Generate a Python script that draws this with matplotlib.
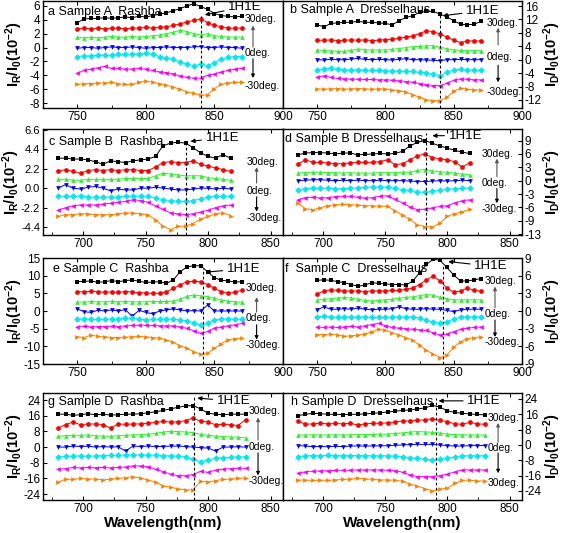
import numpy as np
import matplotlib
matplotlib.use('Agg')
import matplotlib.pyplot as plt
from matplotlib.ticker import FixedLocator, FixedFormatter, MultipleLocator

plt.rcParams['font.family'] = ['Liberation Sans', 'DejaVu Sans']
plt.rcParams['mathtext.fontset'] = 'custom'
plt.rcParams['mathtext.rm'] = 'Liberation Sans'
plt.rcParams['mathtext.bf'] = 'Liberation Sans:bold'
plt.rcParams['mathtext.it'] = 'Liberation Sans:italic'

# ---------------- data ----------------
wl_A = np.arange(750, 871, 5)     # panels a, b, e, f
wl_B = np.arange(680, 819, 6)     # panels c, d
wl_D = np.arange(680, 831, 6)     # panels g, h

a_black = [3.6, 4.1, 4.2, 4.2, 4.3, 4.2, 4.3, 4.4, 4.3, 4.5, 4.4, 4.6, 4.8, 5.0, 5.3, 5.6, 6.0, 6.3, 5.9, 5.5, 4.9, 4.6, 4.5, 4.4, 4.5]
a_red = [2.7, 2.8, 2.7, 2.8, 2.7, 2.8, 2.8, 2.7, 2.8, 2.8, 2.9, 2.8, 2.9, 3.0, 3.2, 3.4, 3.7, 3.9, 4.1, 3.6, 3.2, 3.0, 2.8, 2.8, 2.8]
a_green = [1.5, 1.4, 1.5, 1.4, 1.5, 1.6, 1.5, 1.5, 1.6, 1.5, 1.6, 1.7, 1.8, 2.0, 2.2, 2.5, 2.3, 2.0, 1.8, 2.0, 1.7, 1.6, 1.5, 1.5, 1.5]
a_blue = [-0.1, 0.0, 0.0, -0.1, 0.0, 0.1, 0.0, 0.0, 0.1, 0.0, -0.1, 0.0, 0.0, 0.1, 0.0, 0.0, 0.0, 0.1, 0.15, 0.0, 0.0, 0.1, 0.0, 0.0, -0.1]
a_cyan = [-1.3, -1.2, -1.2, -1.1, -1.1, -1.1, -1.0, -1.0, -0.9, -0.9, -0.8, -1.0, -1.3, -1.5, -1.7, -2.1, -2.4, -2.6, -2.4, -2.6, -2.2, -1.7, -1.4, -1.3, -1.3]
a_magenta = [-3.7, -3.3, -3.1, -2.9, -2.7, -3.0, -3.0, -3.1, -3.1, -3.0, -3.1, -3.3, -3.5, -3.6, -3.8, -4.1, -4.3, -4.4, -4.4, -4.0, -3.8, -3.5, -3.3, -3.1, -3.0]
a_orange = [-5.3, -5.2, -5.2, -5.1, -5.1, -5.0, -5.2, -5.3, -5.3, -5.0, -4.8, -5.0, -5.2, -5.4, -5.7, -6.0, -6.4, -6.6, -6.9, -6.8, -5.9, -5.3, -5.1, -5.0, -5.0]

b_black = [10.4, 9.8, 10.8, 11.0, 11.1, 11.2, 11.4, 11.2, 11.1, 11.0, 10.8, 10.4, 11.6, 12.6, 13.1, 14.1, 14.4, 14.4, 13.6, 12.8, 11.6, 10.6, 10.4, 10.6, 11.4]
b_red = [5.8, 5.8, 5.9, 5.7, 5.8, 5.9, 5.8, 5.9, 5.7, 5.8, 6.0, 6.1, 6.4, 6.7, 7.1, 7.8, 8.6, 8.4, 7.6, 6.8, 5.8, 5.1, 5.6, 5.6, 5.6]
b_green = [2.9, 2.8, 2.6, 2.5, 2.5, 2.8, 3.2, 3.0, 2.9, 2.9, 2.9, 3.1, 3.3, 3.6, 3.9, 4.0, 4.1, 4.2, 3.7, 3.3, 2.9, 2.8, 2.7, 2.7, 2.7]
b_blue = [0.0, -0.1, 0.1, 0.0, 0.0, 0.2, 0.4, 0.1, 0.0, 0.1, 0.0, -0.1, 0.1, 0.3, 0.0, 0.0, -0.1, -0.2, -0.3, 0.0, 0.0, 0.1, 0.0, 0.0, 0.0]
b_cyan = [-3.0, -2.7, -2.6, -2.9, -3.0, -3.1, -3.0, -3.1, -3.2, -3.2, -3.3, -3.3, -3.4, -3.4, -3.5, -3.8, -4.0, -4.3, -4.8, -3.8, -3.0, -2.9, -3.0, -3.1, -3.1]
b_magenta = [-5.2, -4.8, -5.3, -5.6, -5.7, -5.8, -5.8, -5.9, -5.9, -6.0, -6.0, -6.1, -6.3, -6.5, -6.7, -7.1, -7.5, -7.7, -7.7, -7.0, -6.2, -5.7, -5.8, -6.0, -6.0]
b_orange = [-8.7, -8.8, -8.7, -8.6, -8.8, -8.7, -8.6, -8.7, -8.8, -8.7, -8.7, -9.0, -9.2, -9.7, -10.4, -11.2, -12.0, -12.2, -12.2, -11.2, -9.4, -8.5, -8.8, -9.0, -9.0]

c_black = [3.4, 3.4, 3.3, 3.3, 3.2, 3.0, 2.7, 3.1, 3.0, 2.9, 3.1, 3.2, 3.3, 3.6, 4.8, 5.1, 5.2, 5.1, 4.6, 4.0, 3.6, 3.4, 3.8, 3.4]
c_red = [1.9, 2.1, 1.9, 1.7, 2.0, 2.1, 2.0, 2.1, 2.0, 2.1, 2.1, 2.0, 2.0, 2.4, 2.9, 3.0, 2.9, 2.9, 3.1, 2.7, 2.5, 2.3, 2.1, 1.9]
c_green = [1.0, 1.0, 0.9, 0.9, 1.0, 1.0, 1.0, 1.0, 1.0, 1.1, 1.1, 1.1, 1.1, 1.4, 1.7, 1.6, 1.5, 1.4, 1.4, 1.4, 1.2, 1.1, 1.0, 0.9]
c_blue = [0.0, 0.4, 0.0, -0.1, 0.1, 0.2, 0.0, -0.3, -0.1, -0.2, -0.2, 0.0, 0.0, 0.1, 0.0, -0.1, -0.2, -0.2, -0.1, 0.0, 0.0, -0.1, 0.0, -0.1]
c_cyan = [-0.9, -0.9, -0.9, -0.9, -1.0, -1.0, -1.0, -1.0, -1.0, -0.9, -0.9, -0.9, -0.9, -1.1, -1.3, -1.4, -1.5, -1.5, -1.4, -1.2, -1.0, -0.9, -0.9, -0.9]
c_magenta = [-2.5, -2.2, -2.0, -1.9, -1.9, -1.9, -1.8, -1.7, -1.6, -1.5, -1.3, -1.4, -1.6, -2.0, -2.4, -2.8, -2.9, -3.0, -2.9, -2.7, -2.5, -2.2, -2.0, -1.9]
c_orange = [-3.2, -3.0, -3.0, -2.9, -2.9, -3.0, -3.0, -3.0, -2.9, -2.8, -2.8, -2.9, -3.0, -3.6, -4.3, -4.7, -4.3, -4.3, -4.0, -3.5, -3.2, -2.9, -2.8, -3.1]

d_black = [5.8, 6.2, 6.3, 6.3, 6.2, 6.0, 6.2, 6.2, 5.8, 5.9, 6.0, 6.1, 6.0, 6.1, 6.6, 7.8, 8.6, 9.0, 8.4, 7.8, 7.3, 6.8, 6.4, 6.1]
d_red = [3.7, 4.7, 4.1, 4.1, 4.0, 3.8, 3.8, 4.0, 4.1, 4.1, 4.1, 4.3, 4.7, 3.6, 3.8, 4.7, 5.6, 6.0, 5.2, 4.9, 4.7, 4.2, 3.1, 4.0]
d_green = [1.7, 1.8, 1.9, 1.9, 1.8, 1.8, 1.7, 1.8, 1.7, 1.7, 1.7, 1.8, 1.8, 1.8, 1.9, 1.9, 2.3, 2.5, 2.2, 2.0, 1.9, 1.7, 1.5, 1.3]
d_blue = [0.0, 0.1, 0.2, 0.2, 0.1, 0.0, 0.1, 0.0, 0.1, 0.0, 0.0, 0.1, 0.0, 0.0, 0.0, -0.1, -0.2, -0.2, -0.1, 0.0, -0.1, 0.0, 0.1, 0.0]
d_cyan = [-2.0, -1.8, -1.7, -1.6, -1.7, -1.8, -1.8, -1.7, -1.6, -1.5, -1.4, -1.4, -1.5, -1.7, -2.0, -2.2, -2.5, -2.6, -2.4, -2.2, -1.9, -1.8, -1.7, -1.6]
d_magenta = [-4.3, -3.8, -3.7, -3.9, -3.8, -3.6, -3.5, -3.5, -3.7, -3.9, -3.8, -3.5, -3.4, -4.2, -5.0, -5.9, -6.5, -6.4, -6.1, -5.8, -5.6, -5.0, -4.5, -4.3]
d_orange = [-5.0, -6.3, -6.5, -6.1, -5.6, -5.4, -5.3, -5.4, -5.5, -5.6, -5.7, -5.7, -5.8, -6.7, -7.8, -8.7, -9.9, -10.3, -10.4, -9.6, -8.0, -7.4, -7.0, -6.4]

e_black = [8.3, 8.4, 8.5, 8.1, 8.3, 8.6, 8.3, 8.6, 8.8, 8.4, 8.1, 8.2, 8.3, 7.8, 8.8, 11.1, 12.5, 12.8, 12.8, 11.1, 9.4, 8.7, 8.5, 8.2, 8.3]
e_red = [5.5, 5.4, 5.6, 5.5, 5.3, 5.4, 5.3, 5.5, 5.4, 5.2, 5.1, 5.0, 5.0, 5.4, 6.4, 7.4, 8.3, 8.4, 8.3, 7.5, 6.4, 5.5, 5.0, 5.3, 5.9]
e_green = [2.6, 2.5, 2.7, 2.6, 2.6, 2.8, 2.6, 2.7, 2.6, 2.6, 2.6, 2.7, 2.7, 2.7, 2.8, 3.3, 4.2, 4.5, 4.3, 4.1, 3.6, 3.1, 2.8, 2.6, 2.5]
e_blue = [0.6, -0.2, -0.4, 0.2, 0.0, 0.3, 0.0, 0.4, -1.5, 0.2, -0.4, -0.8, 0.0, 0.3, 0.6, 0.3, 0.0, 0.1, 0.0, 1.7, 0.0, 0.0, 0.0, 0.0, 0.0]
e_cyan = [-2.3, -2.2, -2.3, -2.4, -2.3, -2.3, -2.3, -2.1, -1.9, -2.2, -2.5, -2.4, -2.3, -2.3, -2.3, -2.5, -2.8, -3.4, -4.0, -3.5, -2.5, -2.3, -2.2, -2.3, -2.3]
e_magenta = [-4.4, -4.3, -4.5, -4.4, -4.4, -4.3, -4.4, -4.2, -4.1, -4.0, -4.0, -4.1, -4.2, -4.2, -4.2, -4.5, -4.9, -5.6, -6.3, -5.8, -4.9, -4.5, -4.2, -3.9, -3.5]
e_orange = [-7.3, -7.5, -6.8, -7.2, -7.3, -7.5, -7.5, -7.4, -7.3, -7.2, -7.3, -7.5, -7.7, -8.2, -8.9, -9.8, -10.6, -11.5, -12.3, -12.0, -10.6, -9.2, -8.2, -7.8, -7.7]

f_black = [5.2, 5.3, 5.2, 5.0, 4.8, 4.5, 4.2, 4.4, 4.8, 4.7, 4.6, 4.5, 4.5, 4.4, 5.1, 6.5, 7.9, 8.8, 8.6, 7.4, 6.1, 5.1, 5.1, 5.3, 5.5]
f_red = [2.9, 3.4, 3.6, 3.5, 3.4, 3.4, 3.4, 3.3, 3.4, 3.4, 3.4, 3.5, 3.5, 3.7, 3.9, 4.5, 5.3, 5.9, 5.1, 3.9, 3.2, 3.4, 3.9, 3.5, 3.4]
f_green = [1.9, 2.0, 2.1, 2.2, 2.3, 2.2, 2.0, 1.8, 1.7, 1.8, 1.9, 2.0, 2.2, 2.3, 2.4, 2.6, 2.8, 2.7, 2.3, 2.1, 1.9, 1.9, 1.9, 1.9, 1.9]
f_blue = [0.2, 0.7, 0.3, 0.3, 0.4, 0.3, 0.5, 0.3, 0.2, 0.3, 0.3, 0.4, 0.7, 0.4, 0.3, 0.3, 0.4, 0.3, 0.3, 0.1, -0.1, 0.2, 0.3, 0.3, 0.3]
f_cyan = [-1.0, -0.9, -1.0, -1.1, -1.0, -1.0, -1.0, -1.0, -1.1, -1.1, -1.1, -1.0, -1.0, -1.0, -1.0, -1.2, -1.6, -1.9, -2.1, -1.8, -1.4, -1.0, -1.0, -1.0, -1.0]
f_magenta = [-2.7, -2.8, -2.7, -2.8, -2.7, -2.6, -2.7, -2.5, -2.3, -2.1, -2.5, -2.8, -2.9, -3.0, -3.1, -3.2, -3.3, -3.7, -4.1, -3.9, -3.5, -3.1, -2.9, -2.8, -2.7]
f_orange = [-4.0, -4.0, -3.9, -4.1, -4.3, -4.2, -4.1, -3.9, -3.5, -3.1, -3.3, -3.7, -4.1, -4.5, -5.0, -5.8, -6.7, -7.3, -7.9, -7.5, -6.1, -5.2, -4.7, -4.5, -4.4]

g_black = [16.8, 16.8, 16.2, 16.5, 17.0, 16.5, 16.8, 16.3, 16.5, 16.8, 16.8, 17.0, 17.5, 18.0, 18.7, 19.5, 20.3, 21.0, 21.2, 19.5, 17.3, 16.8, 16.5, 16.8, 16.8, 16.8]
g_red = [9.7, 11.4, 12.8, 11.4, 11.8, 11.8, 11.5, 9.7, 11.8, 11.6, 11.8, 11.8, 12.2, 12.6, 13.1, 12.8, 12.8, 13.5, 14.8, 13.2, 12.8, 11.4, 11.6, 11.4, 11.0, 14.0]
g_green = [5.5, 5.8, 6.0, 6.0, 6.2, 5.8, 5.6, 5.5, 5.8, 6.0, 6.2, 6.4, 6.6, 7.0, 7.6, 8.1, 7.9, 7.7, 7.4, 6.5, 6.0, 5.6, 5.4, 5.2, 5.0, 4.7]
g_blue = [0.0, 0.0, 0.5, 0.3, 0.5, 0.0, 0.3, 0.0, 0.2, -2.0, 0.5, 0.3, 0.5, 0.3, 0.3, 0.5, 0.5, 0.3, 0.0, -0.3, -0.5, -2.0, 0.0, 0.0, 0.2, 0.0]
g_cyan = [-5.0, -4.8, -4.5, -4.5, -4.6, -4.5, -4.3, -4.2, -4.2, -4.0, -4.0, -4.0, -4.0, -4.2, -4.3, -4.5, -4.6, -5.0, -6.2, -7.4, -6.6, -5.7, -5.4, -5.2, -5.0, -5.0]
g_magenta = [-11.3, -11.0, -10.4, -10.6, -10.4, -10.5, -10.4, -10.6, -10.4, -10.2, -9.6, -9.6, -10.0, -11.3, -12.5, -13.8, -14.6, -14.6, -14.0, -12.4, -12.9, -11.8, -11.3, -11.0, -10.8, -10.8]
g_orange = [-18.0, -16.3, -16.5, -16.0, -16.3, -16.3, -16.8, -16.3, -16.0, -15.6, -15.1, -15.8, -16.8, -18.0, -19.7, -20.5, -21.3, -21.8, -21.8, -17.5, -17.8, -17.1, -16.5, -16.3, -16.0, -15.8]

h_black = [15.3, 16.0, 16.5, 16.3, 16.0, 16.0, 15.8, 16.0, 16.0, 16.2, 16.5, 16.8, 17.2, 17.6, 18.0, 18.3, 18.8, 19.3, 20.6, 19.8, 17.8, 17.0, 16.5, 16.2, 15.9, 15.7]
h_red = [12.5, 10.8, 11.0, 11.3, 11.0, 11.2, 11.0, 11.3, 10.4, 11.0, 11.3, 11.3, 11.5, 12.0, 12.5, 12.5, 12.8, 13.2, 13.6, 12.8, 12.2, 11.0, 10.8, 11.8, 11.0, 10.8]
h_green = [5.2, 5.2, 5.3, 5.2, 5.2, 5.3, 5.2, 5.3, 5.4, 5.4, 5.5, 5.6, 5.7, 6.0, 6.3, 6.7, 7.0, 6.8, 6.6, 6.2, 5.6, 5.4, 5.3, 5.2, 5.2, 5.2]
h_blue = [-0.3, -0.6, -0.9, -0.8, -0.9, -0.7, -0.8, -0.6, -0.5, -0.6, -0.5, -0.5, -0.4, -0.2, 0.0, 0.2, 0.3, 0.3, 0.3, 0.0, -0.3, -0.6, -0.5, -0.4, -0.3, -0.3]
h_cyan = [-6.1, -5.6, -5.5, -5.6, -5.4, -5.5, -5.6, -5.5, -5.5, -5.6, -5.6, -5.6, -5.6, -5.8, -6.2, -6.6, -7.0, -7.4, -7.8, -7.4, -7.0, -6.2, -5.6, -5.6, -5.6, -5.6]
h_magenta = [-14.8, -14.0, -13.6, -13.6, -13.4, -13.2, -13.2, -13.1, -13.0, -13.0, -13.0, -13.0, -13.2, -13.4, -14.2, -15.6, -16.5, -16.5, -16.5, -16.0, -15.3, -14.0, -13.0, -13.0, -13.0, -13.0]
h_orange = [-18.3, -18.3, -18.5, -18.3, -18.5, -18.2, -18.0, -17.8, -17.4, -17.6, -18.0, -18.2, -18.3, -18.3, -19.0, -20.4, -21.5, -22.8, -24.0, -23.0, -22.6, -20.0, -18.5, -18.3, -18.8, -18.8]

peak_wl = {'a': 840, 'b': 840, 'c': 782, 'd': 783, 'e': 842, 'f': 842, 'g': 789, 'h': 791}

titles = {'a': 'a Sample A  Rashba', 'b': 'b Sample A  Dresselhaus',
          'c': 'c Sample B  Rashba', 'd': 'd Sample B Dresselhaus',
          'e': 'e Sample C  Rashba', 'f': 'f  Sample C  Dresselhaus',
          'g': 'g Sample D  Rashba', 'h': 'h Sample D  Dresselhaus'}

yticks = {'a': [-8, -6, -4, -2, 0, 2, 4, 6], 'b': [-12, -8, -4, 0, 4, 8, 12, 16],
          'c': [-4.4, -2.2, 0.0, 2.2, 4.4, 6.6], 'd': [-12, -9, -6, -3, 0, 3, 6, 9],
          'e': [-15, -10, -5, 0, 5, 10, 15], 'f': [-9, -6, -3, 0, 3, 6, 9],
          'g': [-24, -16, -8, 0, 8, 16, 24], 'h': [-24, -16, -8, 0, 8, 16, 24]}
yticklabels = {'a': ['-8', '-6', '-4', '-2', '0', '2', '4', '6'],
               'b': ['-12', '-8', '-4', '0', '4', '8', '12', '16'],
               'c': ['-4.4', '-2.2', '0.0', '2.2', '4.4', '6.6'],
               'd': ['-13', '-9', '-6', '-3', '0', '3', '6', '9'],
               'e': ['-15', '-10', '-5', '0', '5', '10', '15'],
               'f': ['-9', '-6', '-3', '0', '3', '6', '9'],
               'g': ['-24', '-16', '-8', '0', '8', '16', '24'],
               'h': ['-24', '-16', '-8', '0', '8', '16', '24']}
xticks_long = [750, 800, 850, 900]
xticks_short = [700, 750, 800, 850]
deg_labels = {'a': ['30deg.', '0deg.', '-30deg.'], 'b': ['30deg.', '0deg.', '-30deg.'],
              'c': ['30deg.', '0deg.', '-30deg.'], 'd': ['30deg.', '0deg.', '-30deg.'],
              'e': ['30deg.', '0deg.', '-30deg.'], 'f': ['30deg.', '0deg.', '-30deg.'],
              'g': ['30deg.', '0deg.', '-30deg.'], 'h': ['30deg.', '0deg.', '30deg.']}

panel_data = {
    'a': (wl_A, [a_black, a_red, a_green, a_blue, a_cyan, a_magenta, a_orange]),
    'b': (wl_A, [b_black, b_red, b_green, b_blue, b_cyan, b_magenta, b_orange]),
    'c': (wl_B, [c_black, c_red, c_green, c_blue, c_cyan, c_magenta, c_orange]),
    'd': (wl_B, [d_black, d_red, d_green, d_blue, d_cyan, d_magenta, d_orange]),
    'e': (wl_A, [e_black, e_red, e_green, e_blue, e_cyan, e_magenta, e_orange]),
    'f': (wl_A, [f_black, f_red, f_green, f_blue, f_cyan, f_magenta, f_orange]),
    'g': (wl_D, [g_black, g_red, g_green, g_blue, g_cyan, g_magenta, g_orange]),
    'h': (wl_D, [h_black, h_red, h_green, h_blue, h_cyan, h_magenta, h_orange]),
}

# ---------------- layout / style ----------------
W, H = 567, 533
fig = plt.figure(figsize=(W / 100, H / 100), dpi=100)

styles = [('#000000', 's'), ('#ff0000', 'o'), ('#33ee33', '^'), ('#0000ff', 'v'),
          ('#00e8f0', 'D'), ('#ff00ff', '<'), ('#ff8000', '>')]

layout = {  # pixel box: left, top, right, bottom ; xlim ; ylim ; side
    'a': ((43, 1, 283, 108), (725, 900), (-8.7, 6.7), 'left'),
    'b': ((283, 1, 522, 108), (725, 900), (-14.4, 17.5), 'right'),
    'c': ((43, 129, 283, 235), (668, 860), (-5.3, 6.7), 'left'),
    'd': ((283, 129, 522, 235), (668, 860), (-12.2, 11.6), 'right'),
    'e': ((43, 258, 283, 364), (725, 900), (-15, 15), 'left'),
    'f': ((283, 258, 522, 364), (725, 900), (-9, 9), 'right'),
    'g': ((43, 393, 283, 500), (668, 860), (-27, 27.6), 'left'),
    'h': ((283, 393, 522, 500), (668, 860), (-28.7, 27.1), 'right'),
}
ylabel_x = {'a': -0.075, 'c': -0.086, 'e': -0.075, 'g': -0.075,
            'b': 1.08, 'd': 1.08, 'f': 1.08, 'h': 1.08}
ytick_size = {'a': 8.5, 'b': 8.5, 'c': 8.0, 'd': 8.5, 'e': 8.5, 'f': 8.5, 'g': 8.5, 'h': 8.5}
title_pos = {'a': (0.02, 0.90), 'b': (0.03, 0.92), 'c': (0.025, 0.88), 'd': (0.01, 0.91),
             'e': (0.04, 0.90), 'f': (0.01, 0.90), 'g': (0.02, 0.92), 'h': (0.035, 0.92)}
dash_top = {'a': 0.86, 'b': 0.89, 'c': 0.88, 'd': 0.96, 'e': 0.905, 'f': 0.93, 'g': 0.96, 'h': 0.95}
ann = {  # text pos, arrow tip (data coords)
    'a': ((860, 5.9), (843, 4.7)), 'b': ((859, 14.6), (842, 13.1)),
    'c': ((798, 5.7), (786, 5.3)), 'd': ((801, 10.1), (788, 10.1)),
    'e': ((859, 11.9), (843.5, 11.0)), 'f': ((865, 7.6), (846, 8.4)),
    'g': ((807, 23.5), (791.5, 25.0)), 'h': ((816, 23.0), (793, 23.0)),
}
deg_pos = {  # x of labels, y's of 3 labels, arrow x, up arrow (from,to), down arrow (from,to)
    'a': (0.84, (0.83, 0.51, 0.205), 0.875, (0.57, 0.77), (0.46, 0.28)),
    'b': (0.853, (0.79, 0.48, 0.15), 0.90, (0.59, 0.75), (0.40, 0.24)),
    'c': (0.85, (0.69, 0.415, 0.16), 0.89, (0.49, 0.64), (0.36, 0.22)),
    'd': (0.83, (0.76, 0.49, 0.245), 0.895, (0.55, 0.72), (0.44, 0.30)),
    'e': (0.845, (0.72, 0.43, 0.18), 0.89, (0.49, 0.63), (0.37, 0.23)),
    'f': (0.845, (0.78, 0.47, 0.21), 0.887, (0.53, 0.73), (0.415, 0.255)),
    'g': (0.855, (0.83, 0.50, 0.18), 0.896, (0.56, 0.77), (0.44, 0.23)),
    'h': (0.855, (0.77, 0.49, 0.16), 0.90, (0.54, 0.72), (0.44, 0.25)),
}

axes = {}
for key in 'abcdefgh':
    (l, t, r, b), xl, yl, side = layout[key]
    ax = fig.add_axes([l / W, 1 - b / H, (r - l) / W, (b - t) / H])
    axes[key] = ax
    x, series = panel_data[key]
    for (col, mk), y in zip(styles, series):
        ax.plot(x, y, color=col, marker=mk, ms=3.4, mew=0, lw=0.7)
    ax.set_xlim(*xl)
    ax.set_ylim(*yl)
    xt = xticks_long if xl[1] == 900 else xticks_short
    ax.xaxis.set_major_locator(FixedLocator(xt))
    ax.xaxis.set_minor_locator(MultipleLocator(25))
    ax.yaxis.set_major_locator(FixedLocator(yticks[key]))
    ax.yaxis.set_major_formatter(FixedFormatter(yticklabels[key]))
    ax.tick_params(axis='both', which='both', direction='in', labelsize=8.5, pad=2)
    ax.tick_params(axis='y', labelsize=ytick_size[key])
    ax.tick_params(axis='both', which='major', length=3)
    ax.tick_params(axis='both', which='minor', length=2)
    ax.tick_params(axis='x', top=True)
    if side == 'left':
        ax.tick_params(axis='y', left=True, right=False, labelleft=True, labelright=False)
        ax.set_ylabel(r'$\mathbf{I_R/I_0(10^{-2})}$', fontsize=10.5)
    else:
        ax.yaxis.set_label_position('right')
        ax.tick_params(axis='y', left=False, right=True, labelleft=False, labelright=True)
        ax.set_ylabel(r'$\mathbf{I_D/I_0(10^{-2})}$', fontsize=10.5)
    ax.yaxis.set_label_coords(ylabel_x[key], 0.5)
    for sp in ax.spines.values():
        sp.set_linewidth(1.0)
    ax.axvline(peak_wl[key], ymin=0, ymax=dash_top[key], color='k', lw=0.8, ls=(0, (2.5, 2)))
    tx, ty = title_pos[key]
    ax.text(tx, ty, titles[key], transform=ax.transAxes, fontsize=9, va='center', ha='left')
    (ax_t, ay_t), (ax_p, ay_p) = ann[key]
    ax.annotate('1H1E', xy=(ax_p, ay_p), xytext=(ax_t, ay_t), fontsize=9.5, va='center', ha='left',
                arrowprops=dict(arrowstyle='-|>', lw=0.8, color='k', mutation_scale=6,
                                shrinkA=1, shrinkB=0))
    dx, dys, axx, up, down = deg_pos[key]
    for lab, dy in zip(deg_labels[key], dys):
        ax.text(dx, dy, lab, transform=ax.transAxes, fontsize=7.5, va='center', ha='left')
    ax.annotate('', xy=(axx, up[1]), xytext=(axx, up[0]), xycoords='axes fraction',
                arrowprops=dict(arrowstyle='-|>', lw=0.8, color='#555555', mutation_scale=5,
                                shrinkA=0, shrinkB=0))
    ax.annotate('', xy=(axx, down[1]), xytext=(axx, down[0]), xycoords='axes fraction',
                arrowprops=dict(arrowstyle='-|>', lw=0.8, color='k', mutation_scale=5,
                                shrinkA=0, shrinkB=0))

for key in 'gh':
    axes[key].set_xlabel('Wavelength(nm)', fontsize=11, fontweight='bold', labelpad=1)

fig.savefig('out.png', dpi=100)
